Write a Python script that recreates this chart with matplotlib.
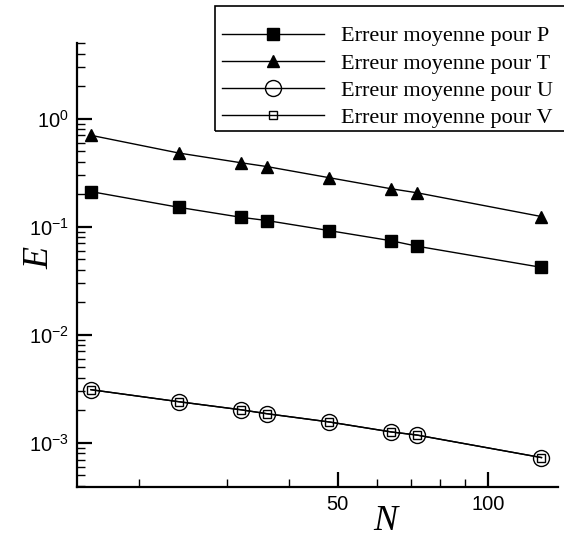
import math
import matplotlib
matplotlib.use("Agg")
import matplotlib.pyplot as plt
from matplotlib.patches import Rectangle
from matplotlib.ticker import FixedLocator, LogLocator, NullFormatter, FuncFormatter

# Mesh size and mean errors for each variable
N = [16, 24, 32, 36, 48, 64, 72, 128]
err_P = [0.211, 0.151, 0.122, 0.114, 0.092, 0.074, 0.066, 0.042]
err_T = [0.70, 0.48, 0.39, 0.36, 0.284, 0.224, 0.206, 0.124]
err_U = [3.1e-3, 2.4e-3, 2.02e-3, 1.86e-3, 1.56e-3, 1.26e-3, 1.18e-3, 7.3e-4]
err_V = [3.1e-3, 2.4e-3, 2.02e-3, 1.86e-3, 1.56e-3, 1.26e-3, 1.18e-3, 7.3e-4]
labels = ["Erreur moyenne pour P", "Erreur moyenne pour T",
          "Erreur moyenne pour U", "Erreur moyenne pour V"]
x_major = [50, 100]

plt.rcParams['font.family'] = ['Liberation Sans', 'DejaVu Sans']
plt.rcParams['mathtext.fontset'] = 'custom'
plt.rcParams['mathtext.rm'] = 'Liberation Sans'

W, H = 564, 538
fig = plt.figure(figsize=(W / 100, H / 100), dpi=100)
ax = fig.add_axes([0.1365, 0.0948, 0.989 - 0.1365, 0.920 - 0.0948])

lw = 1.0
ax.plot(N, err_P, color='black', lw=lw, marker='s', ms=8.5, mfc='black', mec='black', label=labels[0])
ax.plot(N, err_T, color='black', lw=lw, marker='^', ms=9, mfc='black', mec='black', label=labels[1])
ax.plot(N, err_U, color='black', lw=lw, marker='o', ms=11.5, mfc='none', mec='black', mew=1.0, label=labels[2])
ax.plot(N, err_V, color='black', lw=lw, marker='s', ms=5.5, mfc='none', mec='black', mew=1.0, label=labels[3])

ax.set_xscale('log')
ax.set_yscale('log')
ax.set_xlim(15, 138)
ax.set_ylim(3.9e-4, 5)

# x axis: labelled ticks at 50 and 100, unlabelled minor ticks elsewhere
ax.xaxis.set_major_locator(FixedLocator(x_major))
ax.xaxis.set_major_formatter(FuncFormatter(lambda v, p: f"{int(v)}"))
ax.xaxis.set_minor_locator(LogLocator(base=10, subs=range(1, 10), numticks=20))
ax.xaxis.set_minor_formatter(NullFormatter())

ax.yaxis.set_major_locator(LogLocator(base=10, numticks=10))
ax.yaxis.set_minor_locator(LogLocator(base=10, subs=range(2, 10), numticks=20))
ax.yaxis.set_minor_formatter(NullFormatter())
ax.yaxis.set_major_formatter(FuncFormatter(
    lambda v, p: r"$\mathregular{10^{%d}}$" % round(math.log10(v))))

for side in ('top', 'right'):
    ax.spines[side].set_visible(False)
for side in ('left', 'bottom'):
    ax.spines[side].set_linewidth(1.6)

ax.tick_params(which='major', direction='in', length=11, width=1.6, labelsize=14.5, pad=6)
ax.tick_params(which='minor', direction='in', length=6, width=1.0)

fig.text(0.07, 1 - 258 / H, "E", family='Liberation Serif', style='italic',
         fontsize=26, rotation=90, ha='center', va='center')
fig.text(385 / W, 1 - 522 / H, "N", family='Liberation Serif', style='italic',
         fontsize=26, ha='center', va='center')

# legend entries without their own frame, boxed by a separate rectangle
leg = ax.legend(loc='center left', bbox_to_anchor=(222 / W, 1 - 77 / H),
                bbox_transform=fig.transFigure, frameon=False,
                prop={'family': 'Liberation Serif', 'size': 16},
                handlelength=4.6, handletextpad=0.75, labelspacing=0.3,
                borderpad=0.0, borderaxespad=0.0, markerscale=1.0)
frame = Rectangle((215 / W, 1 - 131 / H), (W + 5 - 215) / W, (131 - 6) / H,
                  transform=fig.transFigure, fill=False, edgecolor='black',
                  linewidth=1.2, clip_on=False)
fig.add_artist(frame)

fig.savefig("out.png", dpi=100)
